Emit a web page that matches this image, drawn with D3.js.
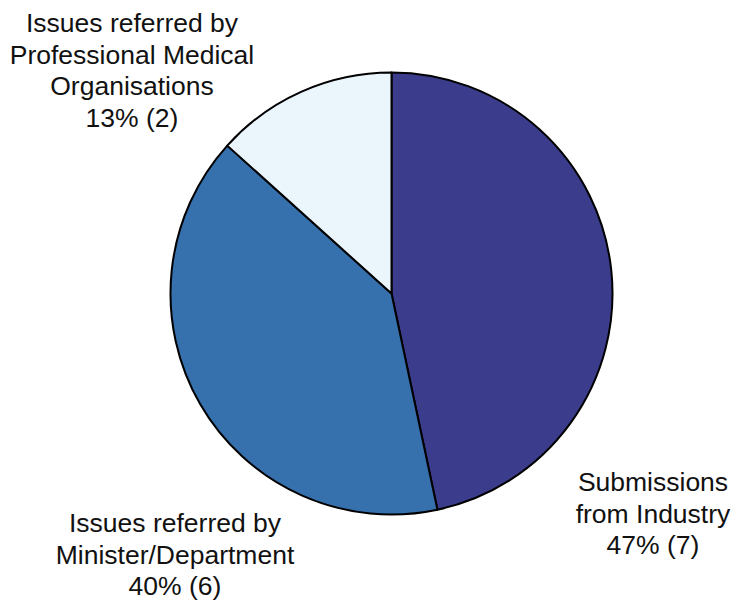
<!DOCTYPE html>
<html>
<head>
<meta charset="utf-8">
<script src="https://cdn.jsdelivr.net/npm/d3@7"></script>
<style>
  body { margin: 0; background: #fff; }
  svg { display: block; }
  .label { font-family: "Liberation Sans", Arial, Helvetica, sans-serif; font-size: 26.5px; fill: #111; }
</style>
</head>
<body>
<script>
/* data */
const categories = ['Submissions from Industry', 'Issues referred by Minister/Department', 'Issues referred by Professional Medical Organisations'];
const counts = [7, 6, 2];
const colors = ['#3b3d8c', '#3670ad', '#ebf5fc'];
// label text split into lines (percent line is computed)
const labelLines = [
  ['Submissions', 'from Industry'],
  ['Issues referred by', 'Minister/Department'],
  ['Issues referred by', 'Professional Medical', 'Organisations']
];

const width = 736, height = 600;
const cx = 391.5, cy = 293.5, radius = 221;
// where each label block sits (center x, first baseline y)
const labelAnchor = [[653, 491], [175, 532], [132, 32]];
const lineHeight = 31.5;

const svg = d3.select('body').append('svg')
  .attr('width', width)
  .attr('height', height);

const total = d3.sum(counts);
const pie = d3.pie().sort(null).value(d => d)(counts);
const arc = d3.arc().innerRadius(0).outerRadius(radius);

const g = svg.append('g')
  .attr('transform', `translate(${cx},${cy})`);

g.selectAll('path')
  .data(pie)
  .enter().append('path')
  .attr('d', arc)
  .attr('fill', (d, i) => colors[i])
  .attr('stroke', '#000')
  .attr('stroke-width', 2)
  .attr('stroke-linejoin', 'round');

/* labels */
const labels = svg.selectAll('.label')
  .data(categories)
  .enter().append('text')
  .attr('class', 'label')
  .attr('text-anchor', 'middle');

labels.each(function (d, i) {
  const lines = labelLines[i].concat([`${Math.round(counts[i] / total * 100)}% (${counts[i]})`]);
  d3.select(this).selectAll('tspan')
    .data(lines)
    .enter().append('tspan')
    .attr('x', labelAnchor[i][0])
    .attr('y', (l, j) => labelAnchor[i][1] + j * lineHeight)
    .text(l => l);
});
</script>
</body>
</html>
